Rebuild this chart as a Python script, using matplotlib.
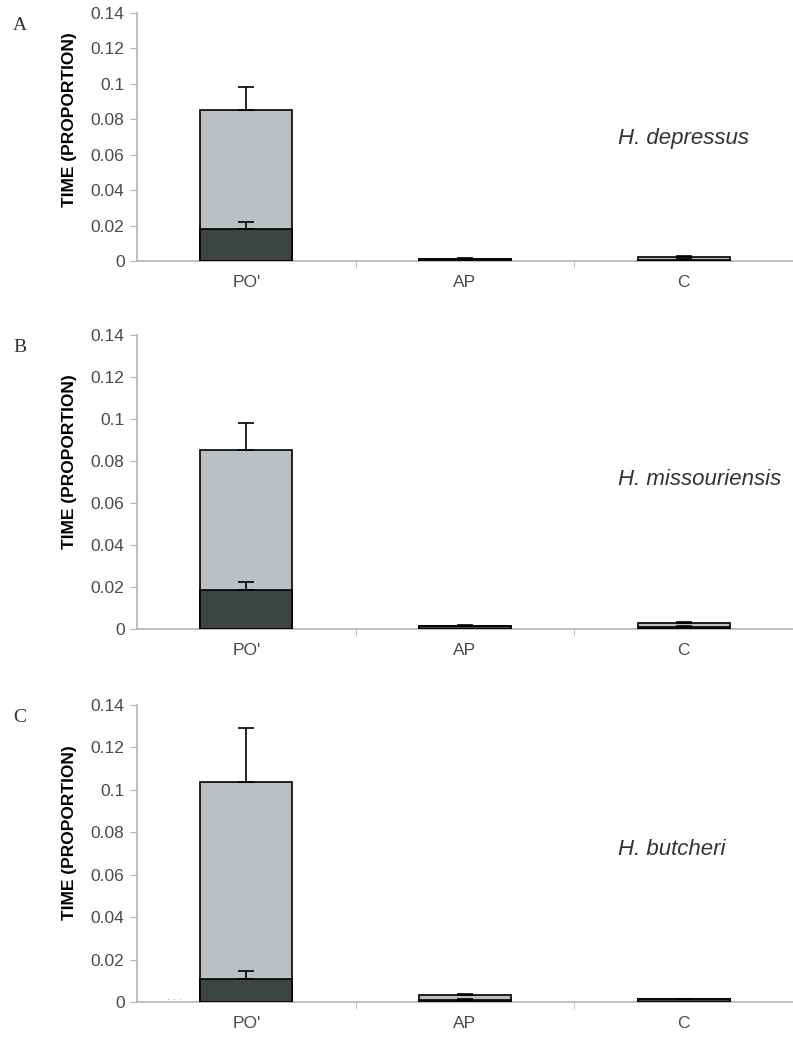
import numpy as np
import matplotlib.pyplot as plt

# categories and data (proportion of time)
cats = ["PO'", "AP", "C"]
panels = ["A", "B", "C"]
species = ["H. depressus", "H. missouriensis", "H. butcheri"]

light_vals = [[0.085, 0.0012, 0.0025],
              [0.085, 0.0015, 0.003],
              [0.1035, 0.0035, 0.0012]]
light_err = [[0.013, 0.0, 0.0004],
             [0.013, 0.0, 0.0005],
             [0.0255, 0.0005, 0.0]]
dark_vals = [[0.018, 0.0012, 0.0006],
             [0.0186, 0.0015, 0.0008],
             [0.011, 0.0008, 0.0012]]
dark_err = [[0.004, 0.0003, 0.0003],
            [0.004, 0.0003, 0.0004],
            [0.0035, 0.0004, 0.0002]]
yticks = [0, 0.02, 0.04, 0.06, 0.08, 0.1, 0.12, 0.14]
ytick_lbl = ["0", "0.02", "0.04", "0.06", "0.08", "0.1", "0.12", "0.14"]
label_y = [0.069, 0.071, 0.072]

W, H = 793, 1038
# axes boxes in pixels: (top, bottom)
boxes = [(13, 261), (335, 629), (705, 1002)]
x0, x1 = 137, 793

light_c = "#bcc0c3"
dark_c = "#3c4542"
grey = "#b4b4b4"
txt = "#4a4a4a"

fig = plt.figure(figsize=(W/100, H/100), dpi=100)
x = np.arange(len(cats))

for i in range(3):
    top, bot = boxes[i]
    ax = fig.add_axes([x0/W, 1 - bot/H, (x1 - x0)/W, (bot - top)/H])
    ax.bar(x, light_vals[i], width=0.42, color=light_c, edgecolor="black", linewidth=1.2, zorder=2)
    ax.errorbar(x, light_vals[i], yerr=[np.zeros(3), light_err[i]], fmt="none",
                ecolor="black", elinewidth=1.2, capsize=6, capthick=1.2, zorder=3)
    ax.bar(x, dark_vals[i], width=0.42, color=dark_c, edgecolor="black", linewidth=1.2, zorder=4)
    ax.errorbar(x, dark_vals[i], yerr=[np.zeros(3), dark_err[i]], fmt="none",
                ecolor="black", elinewidth=1.2, capsize=6, capthick=1.2, zorder=5)

    ax.set_xlim(-0.5, 2.5)
    ax.set_ylim(0, 0.14)
    ax.set_yticks(yticks)
    ax.set_yticklabels(ytick_lbl, fontsize=12.5, color=txt, family="Liberation Sans")
    ax.set_xticks(x)
    ax.set_xticklabels(cats, fontsize=12.5, color=txt, family="Liberation Sans")
    ax.set_xticks([0.5, 1.5, 2.5], minor=True)
    ax.tick_params(axis="x", which="major", length=0, pad=10)
    ax.tick_params(axis="x", which="minor", length=5, color=grey, direction="out")
    ax.tick_params(axis="y", length=5, color=grey, direction="out", pad=4)
    for s in ["top", "right"]:
        ax.spines[s].set_visible(False)
    for s in ["left", "bottom"]:
        ax.spines[s].set_color(grey)
        ax.spines[s].set_linewidth(1.2)
    ax.spines["bottom"].set_zorder(1)

    ax.set_ylabel("TIME (PROPORTION)", fontsize=12.5, fontweight="bold",
                  family="Liberation Sans", color="black")
    ax.yaxis.set_label_coords(-0.092, 0.57)

    ax.text(1.7, label_y[i], species[i], fontsize=16, style="italic",
            family="Liberation Sans", color="#333333", va="center", ha="left")
    fig.text(20/W, 1 - (top + 12)/H, panels[i], fontsize=14, family="Liberation Serif",
             color="#333333", ha="center", va="center")
    if i == 2:
        # faint dots on the baseline left of the first bar
        ax.text(-0.33, 0, ". . .", fontsize=7, color="#999999", ha="center", va="bottom")

fig.savefig("out.png", dpi=100)
